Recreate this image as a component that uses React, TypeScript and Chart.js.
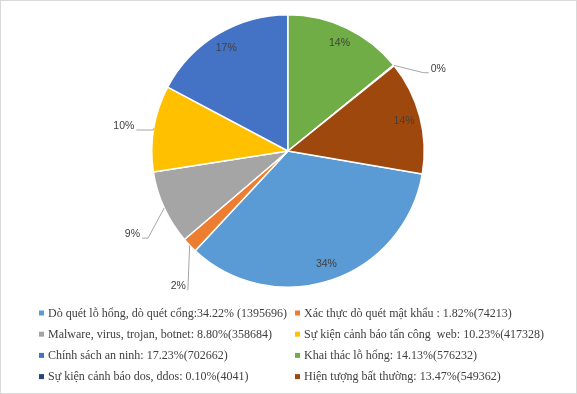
import { useEffect, useRef } from "react";
import { Chart, registerables } from "chart.js";

Chart.register(...registerables);

// ---- data ----
const categories = [
  "Dò quét lỗ hổng, dò quét cổng",
  "Xác thực dò quét mật khẩu",
  "Malware, virus, trojan, botnet",
  "Sự kiện cảnh báo tấn công  web",
  "Chính sách an ninh",
  "Khai thác lỗ hổng",
  "Sự kiện cảnh báo dos, ddos",
  "Hiện tượng bất thường",
];
const counts = [1395696, 74213, 358684, 417328, 702662, 576232, 4041, 549362];
const sliceLabels = ["34%", "2%", "9%", "10%", "17%", "14%", "0%", "14%"];
const legendLabels = [
  "Dò quét lỗ hổng, dò quét cổng:34.22% (1395696)",
  "Xác thực dò quét mật khẩu : 1.82%(74213)",
  "Malware, virus, trojan, botnet: 8.80%(358684)",
  "Sự kiện cảnh báo tấn công  web: 10.23%(417328)",
  "Chính sách an ninh: 17.23%(702662)",
  "Khai thác lỗ hổng: 14.13%(576232)",
  "Sự kiện cảnh báo dos, ddos: 0.10%(4041)",
  "Hiện tượng bất thường: 13.47%(549362)",
];
const colors = ["#5B9BD5", "#ED7D31", "#A5A5A5", "#FFC000", "#4472C4", "#70AD47", "#264478", "#9E480E"];

// ---- label placement (style only) ----
// null = label inside the slice; otherwise leader line to an elbow
type Placement = { shift: number; dist: number; tail: number } | null;
const placements: Placement[] = [
  null,
  { shift: -10.5, dist: 1.26, tail: 0 },
  { shift: -7.2, dist: 1.21, tail: 6 },
  { shift: -0.7, dist: 1.0, tail: 17 },
  null,
  null,
  { shift: 9, dist: 1.15, tail: 5 },
  null,
];

const W = 577;
const H = 394;

const sliceLabelPlugin = {
  id: "sliceLabels",
  afterDatasetsDraw(chart: any) {
    const ctx = chart.ctx;
    const meta = chart.getDatasetMeta(0);
    ctx.save();
    ctx.font = "10.5px 'Liberation Sans', Arial, sans-serif";
    ctx.fillStyle = "#404040";
    meta.data.forEach((arc: any, i: number) => {
      const { x, y, startAngle, endAngle, outerRadius } = arc.getProps(
        ["x", "y", "startAngle", "endAngle", "outerRadius"],
        true
      );
      const mid = (startAngle + endAngle) / 2;
      const text = sliceLabels[i];
      const p = placements[i];
      if (!p) {
        const r = outerRadius * 0.88;
        ctx.textAlign = "center";
        ctx.textBaseline = "middle";
        ctx.fillText(text, x + Math.cos(mid) * r, y + Math.sin(mid) * r);
        return;
      }
      const ex = x + Math.cos(mid) * outerRadius;
      const ey = y + Math.sin(mid) * outerRadius;
      const a = mid + (p.shift * Math.PI) / 180;
      const d = outerRadius * p.dist;
      const bx = x + Math.cos(a) * d;
      const by = y + Math.sin(a) * d;
      const side = Math.cos(a) < 0 ? -1 : 1;
      const tx = bx + side * p.tail;
      ctx.strokeStyle = "#A6A6A6";
      ctx.lineWidth = 1;
      ctx.beginPath();
      ctx.moveTo(ex, ey);
      ctx.lineTo(bx, by);
      ctx.lineTo(tx, by);
      ctx.stroke();
      ctx.textAlign = side < 0 ? "right" : "left";
      ctx.textBaseline = "middle";
      ctx.fillText(text, tx + side * 2, by - 4);
    });
    ctx.restore();
  },
};

const legendPlugin = {
  id: "gridLegend",
  afterDraw(chart: any) {
    const ctx = chart.ctx;
    const ds = chart.data.datasets[0];
    ctx.save();
    ctx.font = "12px 'Liberation Serif', 'Times New Roman', serif";
    ctx.textBaseline = "middle";
    ctx.textAlign = "left";
    const colX = [39, 295];
    const rowY0 = 313.5;
    const rowStep = 21.2;
    chart.data.labels.forEach((lbl: string, i: number) => {
      const col = i % 2;
      const row = Math.floor(i / 2);
      const cy = rowY0 + row * rowStep;
      ctx.fillStyle = ds.backgroundColor[i];
      ctx.fillRect(colX[col], cy - 3, 5, 5);
      ctx.fillStyle = "#404040";
      ctx.fillText(lbl, colX[col] + 9, cy);
    });
    // chart area border
    ctx.strokeStyle = "#D9D9D9";
    ctx.lineWidth = 1;
    ctx.strokeRect(0.5, 0.5, W - 1, H - 1);
    ctx.restore();
  },
};

export default function App() {
  const ref = useRef<HTMLCanvasElement>(null);
  useEffect(() => {
    if (!ref.current) return;
    const total = counts.reduce((s, v) => s + v, 0);
    const firstFive = counts.slice(0, 5).reduce((s, v) => s + v, 0);
    const rotation = 360 * (1 - firstFive / total);
    const chart = new Chart(ref.current, {
      type: "pie",
      data: {
        labels: legendLabels,
        datasets: [
          {
            label: "Sự kiện",
            data: counts,
            backgroundColor: colors,
            borderColor: "#FFFFFF",
            borderWidth: 1.5,
          },
        ],
      },
      options: {
        responsive: false,
        animation: false,
        rotation,
        layout: { padding: { top: 14, bottom: 106, left: 100, right: 101 } },
        plugins: {
          legend: { display: false },
          tooltip: { enabled: false },
          title: { display: false },
        },
      },
      plugins: [sliceLabelPlugin, legendPlugin],
    });
    return () => chart.destroy();
  }, []);
  return (
    <div style={{ position: "fixed", left: 0, top: 0, width: W, height: H, background: "#fff" }}>
      <canvas ref={ref} width={W} height={H} style={{ width: W, height: H, display: "block" }} aria-label={categories.join(", ")} />
    </div>
  );
}
